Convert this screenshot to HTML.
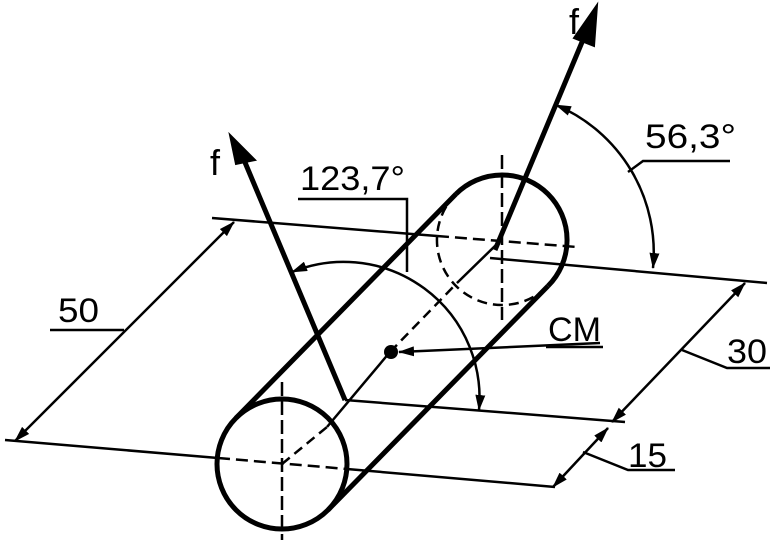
<!DOCTYPE html>
<html><head><style>html,body{margin:0;padding:0;background:#fff}svg{display:block}</style></head>
<body>
<svg width="777" height="545" viewBox="0 0 777 545" xmlns="http://www.w3.org/2000/svg" font-family="Liberation Sans, sans-serif">
<defs>
<marker id="a" markerWidth="16" markerHeight="10" refX="15" refY="5" orient="auto" markerUnits="userSpaceOnUse"><path d="M0,0 L16,5 L0,10 Z" fill="#000"/></marker>
<marker id="s" markerWidth="16" markerHeight="10" refX="1" refY="5" orient="auto" markerUnits="userSpaceOnUse"><path d="M16,0 L0,5 L16,10 Z" fill="#000"/></marker>
</defs>
<g stroke="#000" fill="none" stroke-width="2.5">
<line x1="5" y1="440" x2="218" y2="458"/>
<line x1="218" y1="458" x2="347" y2="469" stroke-dasharray="12,6"/>
<line x1="347" y1="469" x2="555" y2="487"/>
<line x1="212" y1="218" x2="437" y2="236"/>
<line x1="437" y1="236" x2="577" y2="247" stroke-dasharray="12,6"/>
<line x1="490" y1="258" x2="767" y2="283"/>
<line x1="345" y1="400" x2="625" y2="422"/>
<line x1="282" y1="382" x2="282" y2="540" stroke-dasharray="14,5"/>
<line x1="502" y1="155" x2="502" y2="320" stroke-dasharray="14,5"/>
<line x1="282" y1="464" x2="327" y2="427" stroke-dasharray="10,6"/>
<line x1="327" y1="427" x2="390" y2="352"/>
<line x1="390" y1="352" x2="457" y2="283" stroke-dasharray="10,6"/>
<line x1="457" y1="283" x2="497" y2="244"/>
</g>
<g stroke="#000" fill="none" stroke-width="5">
<circle cx="282" cy="464" r="65"/>
<path d="M 456 194 A 65 65 0 1 1 548 286"/>
<path d="M 456 194 A 65 65 0 0 0 548 286" stroke-width="2.5" stroke-dasharray="10,6"/>
<line x1="236" y1="418" x2="456" y2="194"/>
<line x1="328" y1="510" x2="548" y2="286"/>
</g>
<circle cx="391" cy="352" r="7" fill="#000"/>
<g stroke="#000" stroke-width="5">
<line x1="345" y1="400" x2="244" y2="160"/>
<line x1="495" y1="250" x2="585" y2="35"/>
</g>
<path d="M230,135 L255,160 L236,164 Z" fill="#000" stroke="#000" stroke-width="2"/>
<path d="M597,5 L594,46 L574,38 Z" fill="#000" stroke="#000" stroke-width="2"/>
<g stroke="#000" fill="none" stroke-width="2.5">
<line x1="234" y1="222" x2="15" y2="441" marker-start="url(#s)" marker-end="url(#a)"/>
<polyline points="50,330 124,330"/>
<line x1="745" y1="283" x2="612" y2="422" marker-start="url(#s)" marker-end="url(#a)"/>
<polyline points="682,350 727,368 770,368"/>
<line x1="608" y1="428" x2="553" y2="487" marker-start="url(#s)" marker-end="url(#a)"/>
<polyline points="583,452 628,470 675,470"/>
<path d="M 292 272 A 136 136 0 0 1 479 410" marker-start="url(#s)" marker-end="url(#a)"/>
<polyline points="298,199 407,199 407,272"/>
<path d="M 556 105 A 160 160 0 0 1 653 268" marker-start="url(#s)" marker-end="url(#a)"/>
<polyline points="628,172 643,161 730,161"/>
<line x1="600" y1="343" x2="399" y2="352" marker-end="url(#a)"/>
<line x1="546" y1="347" x2="603" y2="347"/>
</g>
<g fill="#000" font-size="34">
<text x="210" y="175" font-size="36">f</text>
<text x="569" y="34" font-size="36">f</text>
<text x="58" y="322" textLength="41" lengthAdjust="spacingAndGlyphs">50</text>
<text x="300" y="190" textLength="105" lengthAdjust="spacingAndGlyphs">123,7°</text>
<text x="645" y="148" textLength="91" lengthAdjust="spacingAndGlyphs">56,3°</text>
<text x="548" y="341" textLength="53" lengthAdjust="spacingAndGlyphs">CM</text>
<text x="727" y="363" textLength="40" lengthAdjust="spacingAndGlyphs">30</text>
<text x="628" y="467" textLength="39" lengthAdjust="spacingAndGlyphs">15</text>
</g>
</svg>
</body></html>
